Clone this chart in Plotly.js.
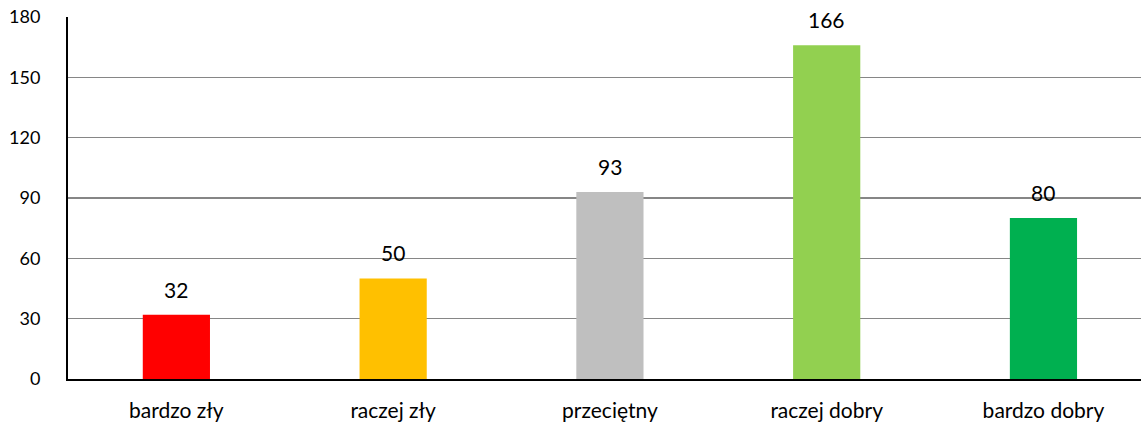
<!DOCTYPE html>
<html>
<head>
<meta charset="utf-8">
<script src="https://cdn.plot.ly/plotly-3.0.1.min.js"></script>
<style>html,body{margin:0;padding:0;background:#fff;}#chart{width:1141px;height:425px;}</style>
</head>
<body>
<div id="chart"></div>
<script>
const categories = ["bardzo zły", "raczej zły", "przeciętny", "raczej dobry", "bardzo dobry"];
const values = [32, 50, 93, 166, 80];
const barColors = ["#FF0000", "#FFC000", "#BFBFBF", "#92D050", "#00B050"];
const yTicks = [0, 30, 60, 90, 120, 150, 180];

const fontFam = "Lato, 'Open Sans', sans-serif";

const trace = {
  type: "bar",
  x: categories,
  y: values,
  marker: { color: barColors, line: { width: 0 } },
  hoverinfo: "x+y",
  cliponaxis: false
};

const annotations = categories.map((c, i) => ({
  x: c, y: values[i], xref: "x", yref: "y",
  text: String(values[i]), showarrow: false,
  yanchor: "bottom", yshift: 11,
  font: { family: fontFam, size: 21, color: "#000" }
}));

const layout = {
  width: 1141, height: 425,
  margin: { l: 68, r: 0, t: 17, b: 46 },
  paper_bgcolor: "#fff", plot_bgcolor: "#fff",
  bargap: 0.69,
  showlegend: false,
  font: { family: fontFam, size: 18, color: "#000" },
  xaxis: {
    type: "category",
    range: [-0.5, 4.45],
    showline: true, linecolor: "#000", linewidth: 2,
    ticks: "", ticklabelstandoff: 12,
    tickfont: { family: fontFam, size: 21, color: "#000" },
    showgrid: false, zeroline: false
  },
  yaxis: {
    range: [0, 180],
    tickvals: yTicks,
    ticktext: yTicks.map(String),
    showline: true, linecolor: "#000", linewidth: 2,
    showgrid: true, gridcolor: "#868686", gridwidth: 1.5,
    zeroline: false, ticks: "", ticklabelstandoff: 22,
    tickfont: { family: fontFam, size: 18, color: "#000" }
  },
  annotations: annotations
};

Plotly.newPlot("chart", [trace], layout, { displayModeBar: false, staticPlot: true });
</script>
</body>
</html>
